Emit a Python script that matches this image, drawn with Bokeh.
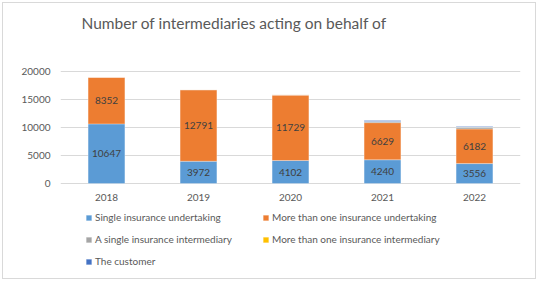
from bokeh.plotting import figure
from bokeh.models import (FactorRange, Range1d, Legend, LegendItem, Label,
                          ColumnDataSource, LabelSet)
from bokeh.core.properties import value
from bokeh.embed import file_html
from bokeh.resources import INLINE

years = ["2018", "2019", "2020", "2021", "2022"]
single_undertaking = [10647, 3972, 4102, 4240, 3556]
multi_undertaking = [8352, 12791, 11729, 6629, 6182]
single_intermediary = [0, 0, 0, 200, 260]
multi_intermediary = [0, 0, 0, 0, 30]
customer = [0, 0, 0, 180, 150]
y_ticks = [0, 5000, 10000, 15000, 20000]

series = ["single_undertaking", "multi_undertaking", "single_intermediary",
          "multi_intermediary", "customer"]
names = ["Single insurance undertaking", "More than one insurance undertaking",
         "A single insurance intermediary", "More than one insurance intermediary",
         "The customer"]
colors = ["#5B9BD5", "#ED7D31", "#A5A5A5", "#FFC000", "#4472C4"]

FONT = "Lato"
TXT = "#595959"
W, H = 538, 281
TOP, BOTTOM = 71, 183          # pixel rows of 20000 and 0
per_px = 20000 / (BOTTOM - TOP)

src = ColumnDataSource(dict(
    years=years,
    single_undertaking=single_undertaking,
    multi_undertaking=multi_undertaking,
    single_intermediary=single_intermediary,
    multi_intermediary=multi_intermediary,
    customer=customer,
    zero=[0] * len(years),
    y1=[v / 2 for v in single_undertaking],
    y2=[a + b / 2 for a, b in zip(single_undertaking, multi_undertaking)],
    t1=[str(v) for v in single_undertaking],
    t2=[str(v) for v in multi_undertaking],
))

p = figure(width=W, height=H, x_range=FactorRange(*years),
           y_range=Range1d(-(H - BOTTOM) * per_px, 20000 + TOP * per_px),
           output_backend="svg", toolbar_location=None,
           min_border_left=60, min_border_right=18,
           min_border_top=0, min_border_bottom=0)
p.border_fill_color = None
p.background_fill_color = None
p.styles = {"outline": "1px solid #D9D9D9", "outline-offset": "-3px",
            "background-color": "white"}

rs = p.vbar_stack(series, x="years", width=0.4, source=src, color=colors,
                  line_color="white", line_width=0.5, line_alpha=0.6)

for col_y, col_t in (("y1", "t1"), ("y2", "t2")):
    p.add_layout(LabelSet(x="years", y=col_y, text=col_t, source=src,
                          text_align="center", text_baseline="middle",
                          text_font=value(FONT), text_font_size="10px",
                          text_color="#404040"))

# category labels under the baseline
p.add_layout(LabelSet(x="years", y="zero", text="years", source=src,
                      y_offset=-14, text_align="center", text_baseline="middle",
                      text_font=value(FONT), text_font_size="10px",
                      text_color=TXT))

p.add_layout(Label(x=21, y=H - 22, x_units="screen", y_units="screen",
                   text="Number of intermediaries acting on behalf of",
                   text_font=FONT, text_font_size="15.5px", text_color=TXT,
                   text_baseline="middle", text_align="left"))

p.outline_line_color = None
p.xaxis.visible = False
p.xgrid.grid_line_color = None
p.ygrid.grid_line_color = "#D9D9D9"
p.yaxis.ticker = y_ticks
p.yaxis.axis_line_color = None
p.yaxis.major_tick_line_color = None
p.yaxis.minor_tick_line_color = None
p.yaxis.major_tick_out = 0
p.yaxis.major_tick_in = 0
p.yaxis.major_label_text_font = FONT
p.yaxis.major_label_text_font_size = "10px"
p.yaxis.major_label_text_color = TXT
p.yaxis.major_label_standoff = 10

order = [0, 2, 4, 1, 3]
items = [LegendItem(label=names[i], renderers=[rs[i]]) for i in order]
legend = Legend(items=items, location=(25, 14), nrows=3,
                orientation="vertical",
                label_text_font=FONT, label_text_font_size="10px",
                label_text_color=TXT, glyph_width=7, glyph_height=7,
                label_standoff=3, label_width=157, label_height=12,
                spacing=10, padding=0, margin=0,
                border_line_color=None, background_fill_alpha=0)
p.add_layout(legend, "center")

open("out.html", "w").write(file_html(p, INLINE))
